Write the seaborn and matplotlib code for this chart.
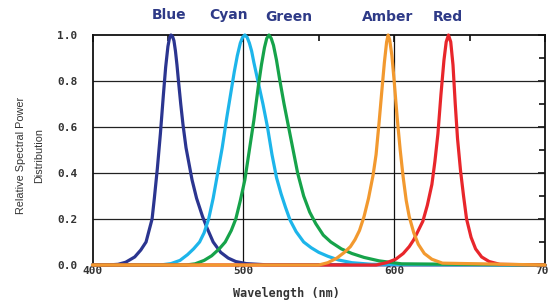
import pandas as pd
import seaborn as sns
import matplotlib
import matplotlib.pyplot as plt
from matplotlib.ticker import FixedLocator
matplotlib.use('Agg')

sns.set_theme(style="white")
plt.rcParams['font.family'] = ['Liberation Sans', 'DejaVu Sans']

# Spectra (wavelength in nm, relative power)
blue_wl = [400, 410, 417, 422, 428, 432, 435.5, 437.5, 439.5, 441, 443, 445, 447, 448.5, 450, 451, 452, 453,
           454, 455, 456, 457, 458.5, 460, 462, 464, 466, 469, 473, 476, 480, 485, 490, 495, 502, 515, 700]
blue_val = [0, 0, 0.003, 0.012, 0.035, 0.065, 0.10, 0.15, 0.20, 0.29, 0.42, 0.57, 0.74, 0.86, 0.95, 0.985, 1.0, 0.995,
            0.975, 0.93, 0.87, 0.80, 0.70, 0.61, 0.51, 0.44, 0.37, 0.29, 0.21, 0.16, 0.10, 0.055, 0.03, 0.015, 0.006, 0.001, 0]

cyan_wl = [400, 445, 452, 458, 463, 467, 471, 474, 477, 480, 483, 486, 489, 492, 494, 496, 498, 499.5, 501,
           502.5, 504, 505.5, 507, 510, 513, 516, 519, 522, 525, 528, 531, 535, 540, 545, 550, 556, 563, 572, 585, 700]
cyan_val = [0, 0, 0.006, 0.02, 0.045, 0.07, 0.10, 0.14, 0.20, 0.29, 0.40, 0.51, 0.64, 0.76, 0.84, 0.91, 0.965, 0.99, 1.0,
            0.99, 0.965, 0.93, 0.88, 0.79, 0.70, 0.60, 0.48, 0.38, 0.31, 0.25, 0.195, 0.145, 0.10, 0.075, 0.055, 0.038, 0.022, 0.01, 0.003, 0]

green_wl = [400, 462, 468, 474, 479, 484, 488, 492, 495, 498, 501, 504, 507, 510, 512, 514, 515.5, 517,
            518.5, 520, 522, 524, 527, 530, 533, 536, 540, 544, 548, 553, 558, 565, 572, 580, 590, 605, 700]
green_val = [0, 0, 0.005, 0.02, 0.04, 0.07, 0.10, 0.15, 0.20, 0.28, 0.37, 0.50, 0.63, 0.78, 0.87, 0.945, 0.985, 1.0,
             0.985, 0.955, 0.89, 0.81, 0.70, 0.60, 0.50, 0.40, 0.30, 0.23, 0.18, 0.13, 0.10, 0.07, 0.05, 0.033, 0.018, 0.005, 0]

amber_wl = [400, 550, 556, 562, 567, 571, 574, 577, 580, 583, 586, 588, 590, 592, 593.5, 595, 596,
            597, 598.5, 600, 602, 604, 606, 608, 610, 613, 616, 620, 625, 632, 700]
amber_val = [0, 0, 0.01, 0.03, 0.055, 0.08, 0.11, 0.15, 0.21, 0.29, 0.39, 0.48, 0.62, 0.77, 0.88, 0.97, 1.0,
             0.98, 0.91, 0.80, 0.64, 0.50, 0.38, 0.28, 0.21, 0.14, 0.09, 0.05, 0.025, 0.008, 0]

red_wl = [400, 588, 595, 601, 606, 610, 613, 616, 619, 622, 625, 627, 629, 631, 633, 634.5, 636,
          637.5, 639, 640.5, 642, 644, 646, 648, 651, 654, 658, 663, 670, 700]
red_val = [0, 0, 0.01, 0.025, 0.05, 0.08, 0.11, 0.15, 0.19, 0.26, 0.35, 0.45, 0.57, 0.74, 0.89, 0.97, 1.0,
           0.97, 0.87, 0.70, 0.55, 0.41, 0.30, 0.20, 0.12, 0.07, 0.035, 0.015, 0.003, 0]

names = ['Blue', 'Cyan', 'Green', 'Red', 'Amber']
label_pos = {'Blue': (451, 1.087), 'Cyan': (490, 1.087), 'Green': (530, 1.078),
             'Amber': (595.5, 1.078), 'Red': (635.5, 1.078)}

colors = {'Blue': '#2b3590', 'Cyan': '#1db5ea', 'Green': '#16a34a',
          'Amber': '#f2992f', 'Red': '#e8262b'}

series = {
    'Blue': (blue_wl, blue_val),
    'Cyan': (cyan_wl, cyan_val),
    'Green': (green_wl, green_val),
    'Red': (red_wl, red_val),
    'Amber': (amber_wl, amber_val),
}

x_ticks = [400, 500, 600, 700]
x_labels = ['400', '500', '600', '700']
y_ticks = [0.0, 0.2, 0.4, 0.6, 0.8, 1.0]
y_labels = ['0.0', '0.2', '0.4', '0.6', '0.8', '1.0']

fig = plt.figure(figsize=(5.49, 3.05), dpi=100)
ax = fig.add_axes([92.5 / 549, 40 / 305, 452.5 / 549, 230 / 305])

# grid lines first, under the curves
for yv in [0.2, 0.4, 0.6, 0.8]:
    ax.axhline(yv, color='#222222', lw=0.9, zorder=1)
for xv in [500, 600]:
    ax.axvline(xv, color='#111111', lw=0.9, zorder=1)

for name in names:
    wl, val = series[name]
    df = pd.DataFrame({'wl': wl, 'val': val})
    sns.lineplot(data=df, x='wl', y='val', ax=ax, color=colors[name], lw=2.3,
                 sort=False, clip_on=False, zorder=3, solid_joinstyle='round',
                 solid_capstyle='round')

label_color = '#2e3a87'
for name in ['Blue', 'Cyan', 'Green', 'Amber', 'Red']:
    x, y = label_pos[name]
    ax.text(x, y, name, ha='center', va='center', fontsize=10, fontweight='bold',
            color=label_color, family=['DejaVu Sans'], clip_on=False)

ax.set_xlim(400, 700)
ax.set_ylim(0, 1.0)
ax.xaxis.set_major_locator(FixedLocator(x_ticks))
ax.xaxis.set_minor_locator(FixedLocator([450, 550, 650]))
ax.yaxis.set_major_locator(FixedLocator(y_ticks))
ax.yaxis.set_minor_locator(FixedLocator([0.1, 0.3, 0.5, 0.7, 0.9]))
ax.set_xticklabels(x_labels)
ax.set_yticklabels(y_labels)
ax.tick_params(axis='both', which='both', direction='in', top=True, right=True,
               color='#111111', width=1.2)
ax.tick_params(axis='both', which='major', length=5, labelsize=8, labelcolor='#333333')
ax.tick_params(axis='both', which='minor', length=4)
ax.tick_params(axis='y', which='major', pad=11)
ax.tick_params(axis='x', which='major', pad=1)
for lab in ax.get_xticklabels() + ax.get_yticklabels():
    lab.set_fontweight('bold')
    lab.set_family(['DejaVu Sans Mono'])

for sp in ax.spines.values():
    sp.set_color('#111111')
    sp.set_linewidth(1.3)

ax.set_xlabel('Wavelength (nm)', fontsize=8.5, fontweight='bold', color='#333333',
              family=['DejaVu Sans Mono'])
ax.xaxis.set_label_coords(0.4276, -0.095)
ax.set_ylabel('Relative Spectral Power\nDistribution', fontsize=7.8, color='#333333',
              linespacing=2.0)
ax.yaxis.set_label_coords(-0.108, 0.478)

plt.savefig('out.png', dpi=100)
